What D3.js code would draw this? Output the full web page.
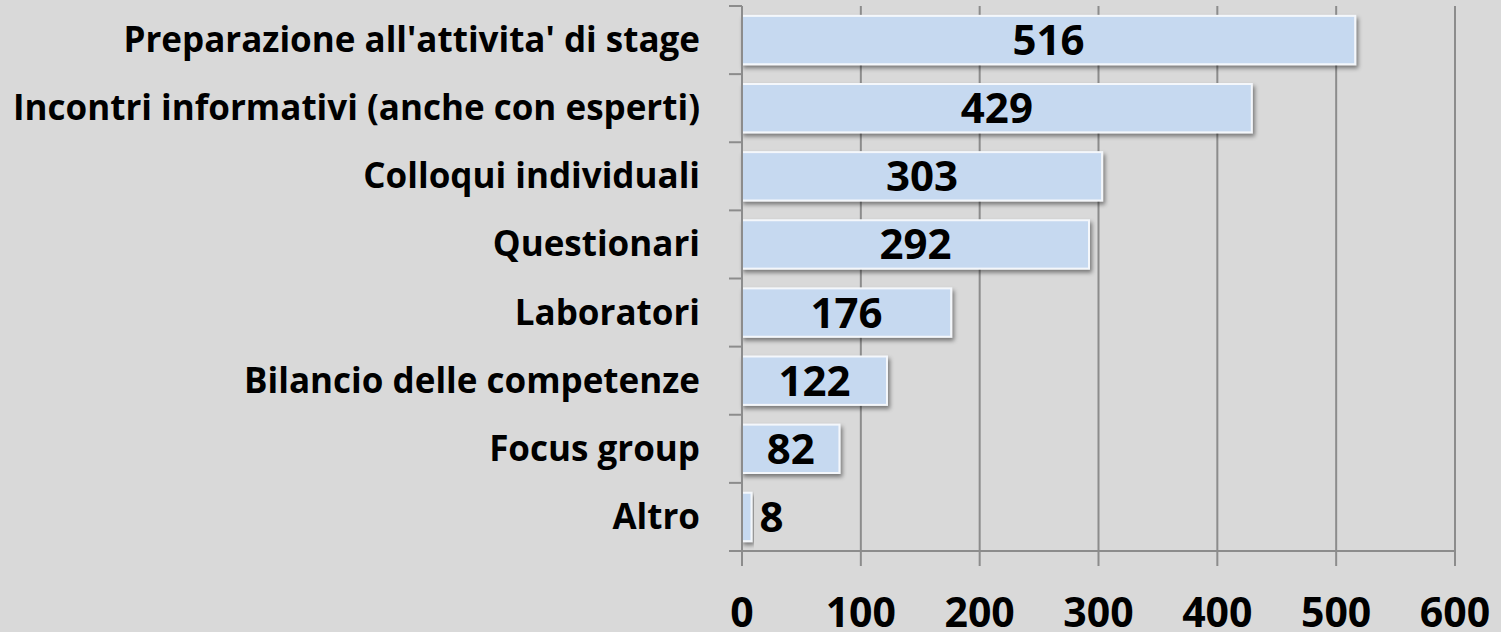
<!DOCTYPE html>
<html>
<head>
<meta charset="utf-8">
<script src="https://cdn.jsdelivr.net/npm/d3@7"></script>
<style>
  html, body { margin: 0; padding: 0; background: #d9d9d9; }
  svg { display: block; }
  text { font-family: "Open Sans", sans-serif; font-weight: bold; fill: #000; }
</style>
</head>
<body>
<div id="chart"></div>
<script>
// data
var categories = ["Preparazione all'attivita' di stage", "Incontri informativi (anche con esperti)",
  "Colloqui individuali", "Questionari", "Laboratori", "Bilancio delle competenze",
  "Focus group", "Altro"];
var values = [516, 429, 303, 292, 176, 122, 82, 8];
var xTicks = [0, 100, 200, 300, 400, 500, 600];

var W = 1501, H = 632;
var margin = {top: 6, right: 46, bottom: 81, left: 742};
var width = W - margin.left - margin.right,
    height = H - margin.top - margin.bottom;

var data = categories.map(function(c, i) { return {name: c, value: values[i]}; });

var x = d3.scaleLinear().domain([0, 600]).range([0, width]);
var y = d3.scaleBand().domain(categories).range([0, height]).paddingInner(0.29).paddingOuter(0.145);

var svg = d3.select("#chart").append("svg")
    .attr("width", W)
    .attr("height", H);

var defs = svg.append("defs");
var f = defs.append("filter").attr("id", "shadow")
    .attr("x", "-10%").attr("y", "-20%").attr("width", "130%").attr("height", "160%");
f.append("feDropShadow").attr("dx", 2).attr("dy", 3).attr("stdDeviation", 2)
    .attr("flood-color", "#000").attr("flood-opacity", 0.45);

var g = svg.append("g")
    .attr("transform", "translate(" + margin.left + "," + margin.top + ")");

// vertical gridlines (extend below axis as ticks)
g.selectAll(".grid")
    .data(xTicks)
  .enter().append("line")
    .attr("class", "grid")
    .attr("x1", function(d) { return x(d); })
    .attr("x2", function(d) { return x(d); })
    .attr("y1", 0)
    .attr("y2", height + 15)
    .attr("stroke", "#8c8c8c")
    .attr("stroke-width", 2);

// bottom axis line
g.append("line")
    .attr("x1", -13).attr("x2", x(600))
    .attr("y1", height).attr("y2", height)
    .attr("stroke", "#8c8c8c").attr("stroke-width", 2);

// left axis ticks at band boundaries
var step = height / categories.length;
g.selectAll(".ytick")
    .data(d3.range(categories.length + 1))
  .enter().append("line")
    .attr("x1", -13).attr("x2", 0)
    .attr("y1", function(i) { return i * step; })
    .attr("y2", function(i) { return i * step; })
    .attr("stroke", "#8c8c8c").attr("stroke-width", 2);

// bars
g.selectAll(".bar")
    .data(data)
  .enter().append("rect")
    .attr("class", "bar")
    .attr("x", 0)
    .attr("y", function(d) { return y(d.name); })
    .attr("width", function(d) { return x(d.value); })
    .attr("height", y.bandwidth())
    .attr("fill", "#c6d9f0")
    .attr("stroke", "#f4f7fb")
    .attr("stroke-width", 2)
    .attr("filter", "url(#shadow)");

// left axis line on top of bars
g.append("line")
    .attr("x1", 0).attr("x2", 0)
    .attr("y1", 0).attr("y2", height + 15)
    .attr("stroke", "#8c8c8c").attr("stroke-width", 2);

// value labels
g.selectAll(".val")
    .data(data)
  .enter().append("text")
    .attr("class", "val")
    .attr("x", function(d) { return d.value < 40 ? x(d.value) + 8 : x(d.value) / 2; })
    .attr("y", function(d) { return y(d.name) + y.bandwidth() / 2 + 15; })
    .attr("text-anchor", function(d) { return d.value < 40 ? "start" : "middle"; })
    .style("font-size", "42px")
    .text(function(d) { return d.value; });

// category labels
g.selectAll(".cat")
    .data(data)
  .enter().append("text")
    .attr("class", "cat")
    .attr("x", -42)
    .attr("y", function(d) { return y(d.name) + y.bandwidth() / 2 + 12; })
    .attr("text-anchor", "end")
    .style("font-size", "35px")
    .text(function(d) { return d.name; });

// x tick labels
g.selectAll(".xlab")
    .data(xTicks)
  .enter().append("text")
    .attr("class", "xlab")
    .attr("x", function(d) { return x(d); })
    .attr("y", height + 76)
    .attr("text-anchor", "middle")
    .style("font-size", "41px")
    .text(function(d) { return d; });
</script>
</body>
</html>
